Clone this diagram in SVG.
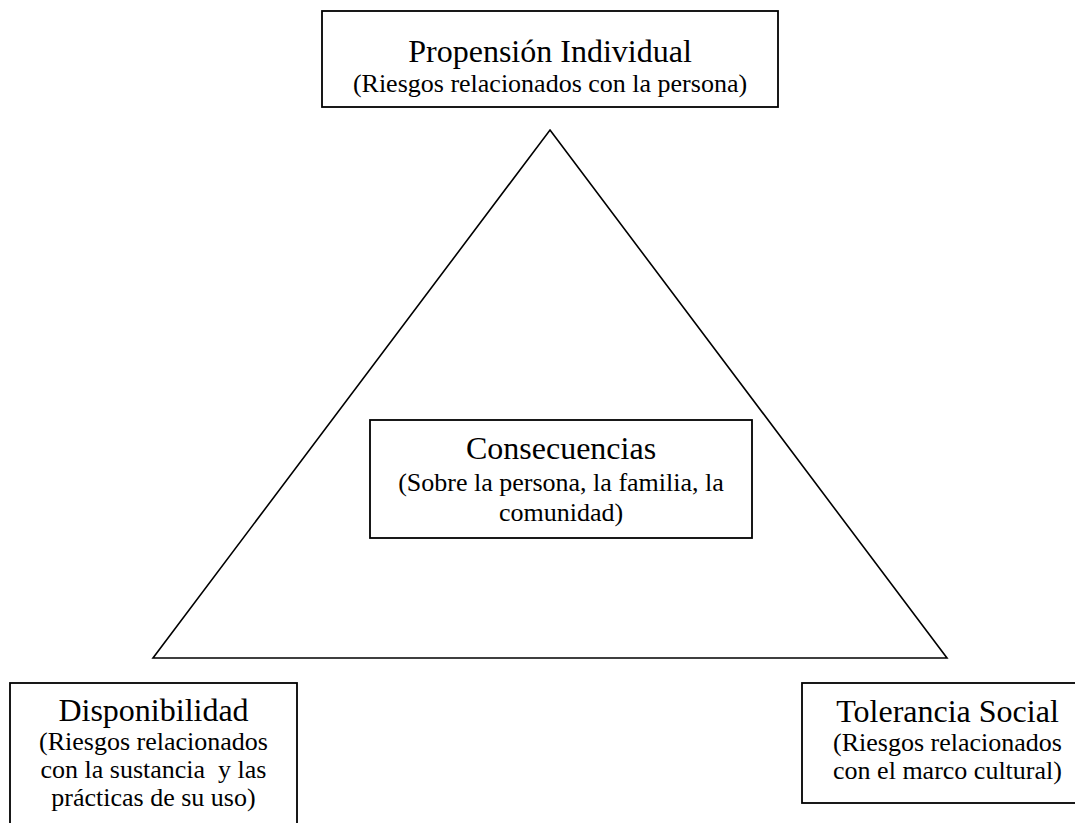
<svg xmlns="http://www.w3.org/2000/svg" width="1075" height="823" viewBox="0 0 1075 823">
<style>
.box{fill:#fff;stroke:#000;stroke-width:1.8}
.tri{fill:none;stroke:#000;stroke-width:1.6}
text{font-family:"Liberation Serif","Times New Roman",serif;fill:#000;text-anchor:middle;white-space:pre}
.t{font-size:32px}
.s{font-size:26px}
</style>
<rect width="1075" height="823" fill="#fff"/>
<g id="connectors">
<polygon class="tri" points="550,130 947,658 153,658"/>
</g>
<g id="propension">
<rect class="box" x="322" y="11" width="456" height="96"/>
<text class="t" x="550" y="62">Propensión Individual</text>
<text class="s" x="550" y="92">(Riesgos relacionados con la persona)</text>
</g>
<g id="consecuencias">
<rect class="box" x="370" y="420" width="382" height="118"/>
<text class="t" x="561" y="459">Consecuencias</text>
<text class="s" x="561" y="491">(Sobre la persona, la familia, la</text>
<text class="s" x="561" y="521">comunidad)</text>
</g>
<g id="disponibilidad">
<rect class="box" x="10" y="683" width="287" height="150"/>
<text class="t" x="153.5" y="721">Disponibilidad</text>
<text class="s" x="153.5" y="750">(Riesgos relacionados</text>
<text class="s" x="153.5" y="778" xml:space="preserve">con la sustancia  y las</text>
<text class="s" x="153.5" y="806">prácticas de su uso)</text>
</g>
<g id="tolerancia">
<rect class="box" x="802" y="683" width="290" height="120"/>
<text class="t" x="947.5" y="722">Tolerancia Social</text>
<text class="s" x="947.5" y="751">(Riesgos relacionados</text>
<text class="s" x="947.5" y="779">con el marco cultural)</text>
</g>
</svg>
